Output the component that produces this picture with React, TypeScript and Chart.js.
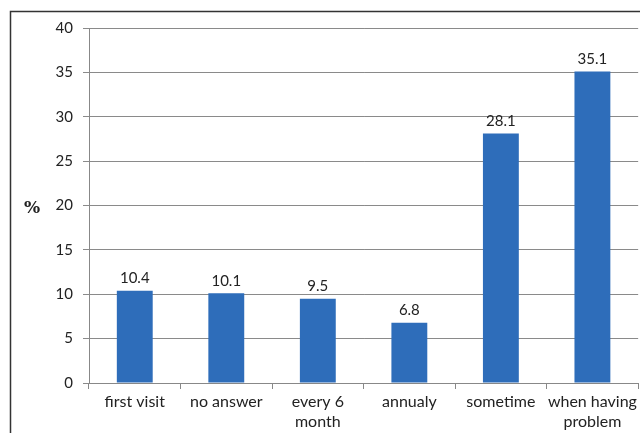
import React, { useEffect, useRef } from "react";
import { Chart, registerables } from "chart.js";

Chart.register(...registerables);

const categories: (string | string[])[] = [
  "first visit",
  "no answer",
  ["every 6", "month"],
  "annualy",
  "sometime",
  ["when having", "problem"],
];
const values = [10.4, 10.1, 9.5, 6.8, 28.1, 35.1];
const yTicks = [0, 5, 10, 15, 20, 25, 30, 35, 40];
const axisTitle = "%";

const FONT = "Lato, 'Open Sans', sans-serif";

export default function App() {
  const ref = useRef<HTMLCanvasElement>(null);
  useEffect(() => {
    if (!ref.current) return;
    const overlay = {
      id: "overlay",
      afterDatasetsDraw(chart: any) {
        const ctx = chart.ctx;
        const meta = chart.getDatasetMeta(0);
        ctx.save();
        ctx.fillStyle = "#222";
        ctx.font = `15px ${FONT}`;
        ctx.textAlign = "center";
        ctx.textBaseline = "bottom";
        meta.data.forEach((bar: any, i: number) => {
          ctx.fillText(values[i].toFixed(1), bar.x, bar.y - 5);
        });
        ctx.font = "bold 17px 'DejaVu Serif', serif";
        ctx.textBaseline = "middle";
        ctx.fillText(axisTitle, 32, 209);
        ctx.strokeStyle = "#333";
        ctx.lineWidth = 1.5;
        ctx.beginPath();
        ctx.moveTo(10.5, 433);
        ctx.lineTo(10.5, 11.5);
        ctx.lineTo(640, 11.5);
        ctx.stroke();
        ctx.restore();
      },
    };
    const chart = new Chart(ref.current, {
      type: "bar",
      data: {
        labels: categories,
        datasets: [
          {
            data: values,
            backgroundColor: "#2E6DBA",
            barPercentage: 0.8,
            categoryPercentage: 0.49,
          },
        ],
      },
      options: {
        animation: false,
        responsive: false,
        layout: { padding: { top: 28, right: 1, left: 0, bottom: 0 } },
        plugins: { legend: { display: false }, tooltip: { enabled: false } },
        scales: {
          x: {
            grid: {
              drawOnChartArea: false,
              drawTicks: true,
              tickLength: 6,
              color: "#888",
              offset: true,
            },
            border: { color: "#888" },
            ticks: {
              color: "#222",
              font: { family: FONT, size: 16, lineHeight: 1.25 },
              padding: 3,
              maxRotation: 0,
              autoSkip: false,
            },
            afterFit(scale: any) {
              scale.height = 50;
            },
          },
          y: {
            min: 0,
            max: 40,
            afterBuildTicks(scale: any) {
              scale.ticks = yTicks.map((v) => ({ value: v }));
            },
            grid: { color: "#8a8a8a", tickLength: 6 },
            border: { color: "#888" },
            ticks: {
              color: "#222",
              font: { family: FONT, size: 15 },
              padding: 10,
            },
            afterFit(scale: any) {
              scale.width = 89;
            },
          },
        },
      },
      plugins: [overlay],
    });
    return () => chart.destroy();
  }, []);
  return (
    <div style={{ position: "fixed", left: 0, top: 0, width: 640, height: 433, background: "#fff" }}>
      <canvas ref={ref} width={640} height={433} style={{ width: 640, height: 433 }} />
    </div>
  );
}
